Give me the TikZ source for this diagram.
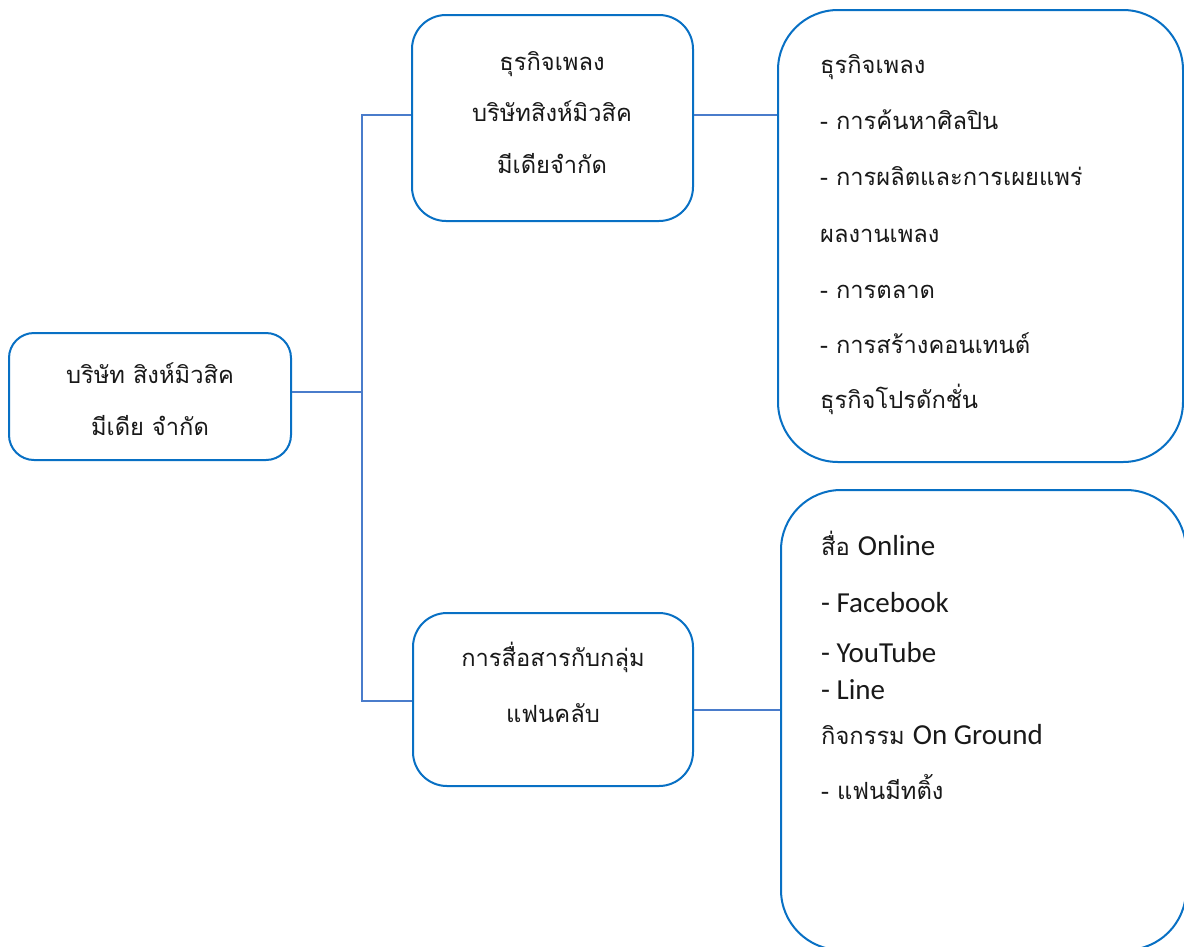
\documentclass[tikz,border=0pt]{standalone}
\usepackage{fontspec}
\newfontfamily\thaifont[Script=Thai]{Loma}
\newfontfamily\latfont{Carlito}
\definecolor{boxblue}{HTML}{0870C4}
\definecolor{linkblue}{HTML}{4A7CCB}
\tikzset{
  box/.style={draw=boxblue, line width=2pt, fill=white, inner sep=0pt},
  conn/.style={draw=linkblue, line width=1.3pt},
  th/.style={inner sep=0pt, text=black!90, font=\thaifont\fontsize{23.7}{23.7}\selectfont},
  thl/.style={th, anchor=base west},
  thc/.style={th, anchor=base},
}
\newcommand{\lt}[1]{{\latfont\fontsize{29}{29}\selectfont #1}}
\begin{document}
\begin{tikzpicture}[x=1pt,y=-1pt]
\useasboundingbox (0,0) rectangle (1184,946);
\clip (0,0) rectangle (1184,946);
\fill[white] (0,0) rectangle (1184,946);
% boxes
\node[box, rounded corners=25pt, minimum width=282pt, minimum height=127pt] (root) at (150,396.5) {};
\node[box, rounded corners=34pt, minimum width=281pt, minimum height=206pt] (b1) at (552.5,118) {};
\node[box, rounded corners=34pt, minimum width=280pt, minimum height=173pt] (b2) at (553,699.5) {};
\node[box, rounded corners=60pt, minimum width=405pt, minimum height=452pt] (b3) at (980.5,236) {};
\node[box, rounded corners=60pt, minimum width=405pt, minimum height=460pt] (b4) at (983.5,720) {};
% connectors
\coordinate (tTop) at (362,115);
\coordinate (tBot) at (362,701);
\coordinate (rBot) at (693,710);
\draw[conn] (root.east |- 0,392) -- (tTop |- 0,392);
\draw[conn] (b1.west |- tTop) -- (tTop) -- (tBot) -- (b2.west |- tBot);
\draw[conn] (b1.east |- tTop) -- (b3.west |- tTop);
\draw[conn] (b2.east |- rBot) -- (b4.west |- rBot);
% root text
\node[thc] (r1) at (150,383) {บริษัท สิงห์มิวสิค};
\node[thc] (r2) at (150,435) {มีเดีย จำกัด};
% box 1 text
\node[thc] (a1) at (552,70) {ธุรกิจเพลง};
\node[thc] (a2) at (552,121) {บริษัทสิงห์มิวสิค};
\node[thc] (a3) at (552,173) {มีเดียจำกัด};
% box 2 text
\node[thc] (c1) at (553,666) {การสื่อสารกับกลุ่ม};
\node[thc] (c2) at (553,722) {แฟนคลับ};
% box 3 text
\node[thl] (d1) at (820,73) {ธุรกิจเพลง};
\node[thl] (d2) at (820,129) {- การค้นหาศิลปิน};
\node[thl] (d3) at (820,185) {- การผลิตและการเผยแพร่};
\node[thl] (d4) at (820,242) {ผลงานเพลง};
\node[thl] (d5) at (820,298) {- การตลาด};
\node[thl] (d6) at (820,353) {- การสร้างคอนเทนต์};
\node[thl] (d7) at (820,408) {ธุรกิจโปรดักชั่น};
% box 4 text
\node[thl] (e1) at (821,555) {สื่อ \lt{Online}};
\node[thl] (e2) at (821,612) {\lt{- Facebook}};
\node[thl] (e3) at (821,662) {\lt{- YouTube}};
\node[thl] (e4) at (821,699) {\lt{- Line}};
\node[thl] (e5) at (821,744) {กิจกรรม \lt{On Ground}};
\node[thl] (e6) at (821,799) {- แฟนมีทติ้ง};
\end{tikzpicture}
\end{document}
